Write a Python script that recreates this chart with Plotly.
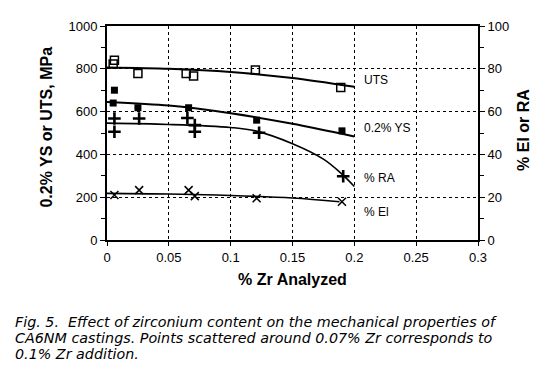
import plotly.graph_objects as go

# ---- data ----
uts_x = [0.006, 0.005, 0.025, 0.064, 0.070, 0.120, 0.189]
uts_y = [840, 822, 778, 778, 766, 794, 713]
uts_fit_x = [0.0, 0.05, 0.10, 0.15, 0.20]
uts_fit_y = [806, 800, 785, 757, 716]

ys_x = [0.006, 0.005, 0.025, 0.066, 0.121, 0.190]
ys_y = [700, 640, 618, 618, 560, 510]
ys_fit_x = [0.0, 0.05, 0.10, 0.15, 0.20]
ys_fit_y = [645, 628, 592, 543, 484]

ra_x = [0.006, 0.006, 0.026, 0.065, 0.071, 0.071, 0.123, 0.191]
ra_y = [56.8, 50.6, 56.8, 57.0, 53.7, 50.6, 50.1, 29.8]
ra_fit_x = [0.0, 0.05, 0.10, 0.12, 0.15, 0.175, 0.19, 0.20]
ra_fit_y = [54.6, 54.0, 52.6, 51.0, 45.0, 37.8, 30.8, 25.0]

el_x = [0.006, 0.026, 0.066, 0.071, 0.121, 0.190]
el_y = [21.0, 23.3, 23.3, 20.5, 19.5, 17.9]
el_fit_x = [0.0, 0.05, 0.10, 0.15, 0.188]
el_fit_y = [21.8, 21.5, 20.8, 19.6, 17.9]

x_ticks = [0, 0.05, 0.1, 0.15, 0.2, 0.25, 0.3]
x_tick_text = ["0", "0.05", "0.1", "0.15", "0.2", "0.25", "0.3"]
y_ticks = [0, 200, 400, 600, 800, 1000]
y2_ticks = [0, 20, 40, 60, 80, 100]

series_labels = ["UTS", "0.2% YS", "% RA", "% El"]
label_y = [747, 523, 29, 13]  # label heights (left axis units for first two, right axis for rest)

x_title = "% Zr Analyzed"
y_title = "0.2% YS or UTS, MPa"
y2_title = "% El or RA"

caption_lines = [
    "Fig. 5.  Effect of zirconium content on the mechanical properties of",
    "CA6NM castings. Points scattered around 0.07% Zr corresponds to",
    "0.1% Zr addition.",
]

fig = go.Figure()
line = dict(color="black", width=2, shape="spline", smoothing=0.8)

fig.add_trace(go.Scatter(x=uts_fit_x, y=uts_fit_y, mode="lines", line=line, showlegend=False))
fig.add_trace(go.Scatter(x=uts_x, y=uts_y, mode="markers", showlegend=False,
                         marker=dict(symbol="square-open", size=8, color="black", line=dict(width=1.5))))
fig.add_trace(go.Scatter(x=ys_fit_x, y=ys_fit_y, mode="lines", line=line, showlegend=False))
fig.add_trace(go.Scatter(x=ys_x, y=ys_y, mode="markers", showlegend=False,
                         marker=dict(symbol="square", size=7, color="black")))
fig.add_trace(go.Scatter(x=ra_fit_x, y=ra_fit_y, mode="lines", line=dict(color="black", width=1.6, shape="spline"),
                         yaxis="y2", showlegend=False))
fig.add_trace(go.Scatter(x=ra_x, y=ra_y, mode="markers", yaxis="y2", showlegend=False,
                         marker=dict(symbol="cross-thin-open", size=9, color="black", line=dict(width=2.6, color="black"))))
fig.add_trace(go.Scatter(x=el_fit_x, y=el_fit_y, mode="lines", line=dict(color="black", width=1.6, shape="spline"),
                         yaxis="y2", showlegend=False))
fig.add_trace(go.Scatter(x=el_x, y=el_y, mode="markers", yaxis="y2", showlegend=False,
                         marker=dict(symbol="x-thin-open", size=8, color="black", line=dict(width=1.5, color="black"))))

tick_font = dict(family="Liberation Sans, Arial", size=13, color="black")
title_font = dict(family="Liberation Sans, Arial", size=16, color="black")

# page body has an 8px margin, so the figure is made 8px smaller and margins trimmed
fig.update_layout(
    width=542, height=373,
    margin=dict(l=99, r=72, t=18, b=141),
    paper_bgcolor="white", plot_bgcolor="white",
    xaxis=dict(range=[0, 0.3], tickvals=x_ticks, ticktext=x_tick_text, automargin=False,
               showgrid=True, gridcolor="black", griddash="dot", gridwidth=1,
               showline=True, linecolor="black", linewidth=2, mirror=True,
               ticks="outside", ticklen=4, tickcolor="black", zeroline=False,
               tickfont=tick_font,
               title=dict(text="<b>" + x_title + "</b>", font=title_font, standoff=10)),
    yaxis=dict(range=[0, 1000], tickvals=y_ticks, automargin=False,
               showgrid=True, gridcolor="black", griddash="dot", gridwidth=1,
               showline=True, linecolor="black", linewidth=2,
               ticks="outside", ticklen=5, tickcolor="black", zeroline=False,
               minor=dict(tickvals=[100, 300, 500, 700, 900], ticks="outside", ticklen=4, tickcolor="black", showgrid=False),
               tickfont=tick_font),
    yaxis2=dict(range=[0, 100], tickvals=y2_ticks, overlaying="y", side="right", automargin=False,
                showgrid=False, showline=True, linecolor="black", linewidth=2,
                ticks="outside", ticklen=5, tickcolor="black", zeroline=False,
                minor=dict(tickvals=[10, 30, 50, 70, 90], ticks="outside", ticklen=4, tickcolor="black"),
                tickfont=tick_font),
)

# vertical axis titles placed as rotated text
fig.add_annotation(x=-0.164, y=0.526, xref="paper", yref="paper", text="<b>" + y_title + "</b>",
                   textangle=-90, showarrow=False, xanchor="center", yanchor="middle", font=title_font)
fig.add_annotation(x=1.121, y=0.514, xref="paper", yref="paper", text="<b>" + y2_title + "</b>",
                   textangle=-90, showarrow=False, xanchor="center", yanchor="middle", font=title_font)

label_refs = ["y", "y", "y2", "y2"]
for txt, yy, ref in zip(series_labels, label_y, label_refs):
    fig.add_annotation(x=0.206, y=yy, xref="x", yref=ref, text=txt, showarrow=False,
                       xanchor="left", yanchor="middle",
                       font=dict(family="Liberation Sans, Arial", size=12, color="black"))

caption_y = [-0.383, -0.457, -0.531]
for txt, yy in zip(caption_lines, caption_y):
    fig.add_annotation(x=-0.253, y=yy, xref="paper", yref="paper", text=txt,
                       showarrow=False, xanchor="left", yanchor="middle", align="left",
                       font=dict(family="DejaVu Sans", size=14.3, style="italic", color="black"))

fig.write_html("out.html")
